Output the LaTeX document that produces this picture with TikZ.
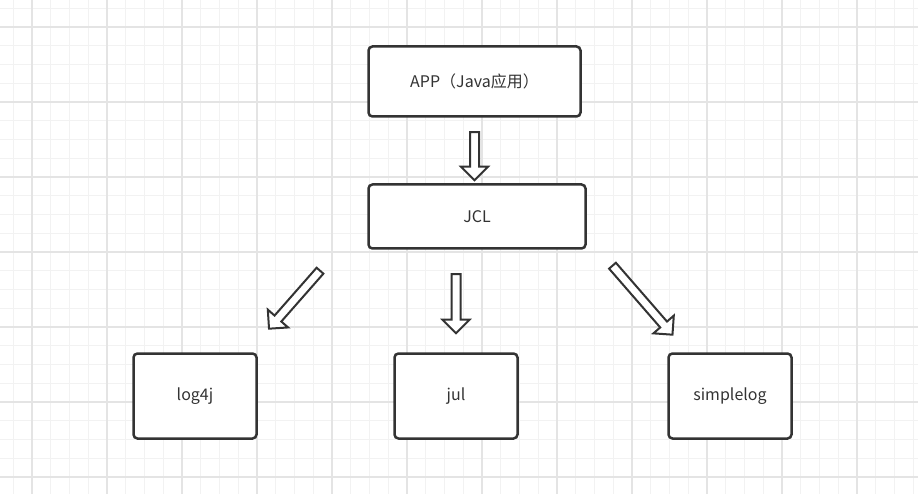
\documentclass[tikz,border=0pt]{standalone}
\usepackage{fontspec}
\setmainfont{Noto Sans CJK SC}
\usetikzlibrary{shapes.arrows,calc}
\definecolor{inkgray}{HTML}{333333}
\definecolor{minorgray}{HTML}{F2F2F2}
\definecolor{majorgray}{HTML}{E4E4E4}
\tikzset{
  box/.style={draw=inkgray, line width=2.5pt, rounded corners=4pt, fill=white,
    text=inkgray, font=\fontsize{16}{19}\selectfont},
  fatarrow/.style={single arrow, draw=inkgray, line width=2pt, fill=white,
    inner xsep=0pt, inner ysep=3.5pt, outer sep=0pt,
    single arrow head extend=9pt, single arrow tip angle=90},
  minorline/.style={draw=minorgray, line width=1.2pt},
  majorline/.style={draw=majorgray, line width=1.2pt},
}
% block arrow between two named coordinates
\newcommand\fatarrowbetween[3]{%
  \path let \p1=($(#2)-(#1)$), \n1={veclen(\x1,\y1)} in
    (#1) -- (#2) node[fatarrow, midway, sloped, allow upside down,
      minimum height=\n1] (#3) {};}
\begin{document}
\begin{tikzpicture}[x=1pt, y=-1pt]
\useasboundingbox (0,0) rectangle (918,494);

% grid
\foreach \i in {0,...,48}
  \draw[minorline] ({13.25+18.75*\i},0) -- ++(0,494);
\foreach \i in {0,...,26}
  \draw[minorline] (0,{8.25+18.75*\i}) -- ++(918,0);
\foreach \i in {0,...,11}
  \draw[majorline] ({32+75*\i},0) -- ++(0,494);
\foreach \i in {0,...,6}
  \draw[majorline] (0,{27+75*\i}) -- ++(918,0);

% boxes
\node[box, minimum width=212pt, minimum height=70pt] (app) at (474.5,81.5) {APP（Java应用）};
\node[box, minimum width=217pt, minimum height=64pt] (jcl) at (477,216.5) {JCL};
\node[box, minimum width=123pt, minimum height=85pt] (log4j) at (195,396) {log4j};
\node[box, minimum width=123pt, minimum height=85pt] (jul) at (456,396) {jul};
\node[box, minimum width=123pt, minimum height=85pt] (simplelog) at (730,396) {simplelog};

% arrow ends
\coordinate (apptail) at (474.5,130);
\coordinate (apptip) at (474.5,178);
\coordinate (log4jtail) at (321.5,269);
\coordinate (log4jtip) at (270.5,327);
\coordinate (jultail) at (456,272);
\coordinate (jultip) at (456,331);
\coordinate (simpletail) at (611,264);
\coordinate (simpletip) at (671,333);

% arrows
\fatarrowbetween{apptail}{apptip}{toJCL}
\fatarrowbetween{log4jtail}{log4jtip}{toLog4j}
\fatarrowbetween{jultail}{jultip}{toJul}
\fatarrowbetween{simpletail}{simpletip}{toSimplelog}

\end{tikzpicture}
\end{document}
